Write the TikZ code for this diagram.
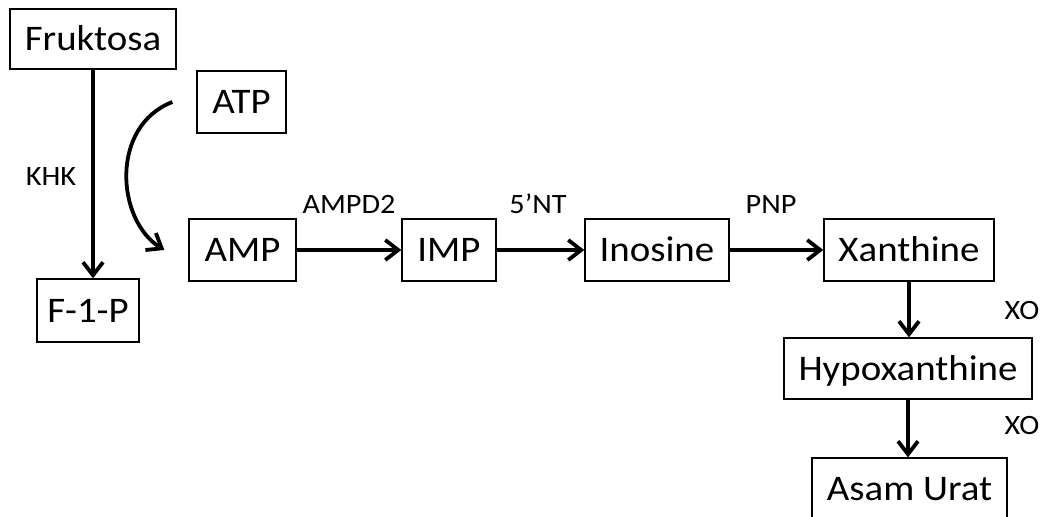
\documentclass[tikz,border=0pt]{standalone}
\usepackage{fontspec}
\setmainfont{Carlito}[FakeStretch=1.08]
\usetikzlibrary{arrows.meta}
\begin{document}
\begin{tikzpicture}[x=1pt, y=-1pt,
  box/.style={draw=black, line width=1.3pt, minimum height=62pt, inner sep=0pt,
    font=\fontsize{36}{40}\selectfont, text height=23pt, text depth=0pt},
  enz/.style={inner sep=0pt, font=\fontsize{28}{32}\selectfont, text height=17pt, text depth=0pt},
  flow/.style={line width=3.8pt, -{Straight Barb[length=13pt, width=20pt]}}]
\clip (0,0) rectangle (1045,517);
\fill[white] (0,0) rectangle (1045,517);

% substrates and products
\node[box, minimum width=166pt, minimum height=60pt] (fru) at (93,39) {Fruktosa};
\node[box, minimum width=89pt] (atp) at (241.5,102) {ATP};
\node[box, minimum width=102pt, minimum height=63pt] (f1p) at (88,310.5) {F-1-P};
\node[box, minimum width=107pt] (amp) at (242.5,250) {AMP};
\node[box, minimum width=94pt] (imp) at (449,250) {IMP};
\node[box, minimum width=144pt] (ino) at (657,250) {Inosine};
\node[box, minimum width=170pt] (xan) at (909,250) {Xanthine};
\node[box, minimum width=248pt, minimum height=61pt] (hyp) at (908,368.5) {Hypoxanthine};
\node[box, minimum width=195pt] (urat) at (909.5,489) {Asam Urat};

% enzymes
\node[enz] (khk) at (51,176.5) {KHK};
\node[enz] (ampd) at (349,205) {AMPD2};
\node[enz] (nt) at (538,205) {5’NT};
\node[enz] (pnp) at (771,205) {PNP};
\node[enz] (xo1) at (1022,310.5) {XO};
\node[enz] (xo2) at (1022,425.5) {XO};

% reactions
\draw[flow] (fru.south) -- (fru.south |- f1p.north);
\draw[flow] (amp) -- (imp);
\draw[flow] (imp) -- (ino);
\draw[flow] (ino) -- (xan);
\draw[flow] (xan.south) -- (xan.south |- hyp.north);
\draw[flow] (hyp.south) -- (hyp.south |- urat.north);

% ATP consumed, AMP released
\draw[flow] ([xshift=-24pt]atp.west) .. controls (110,126) and (116,220) .. ([xshift=-24pt]amp.west);
\end{tikzpicture}
\end{document}
